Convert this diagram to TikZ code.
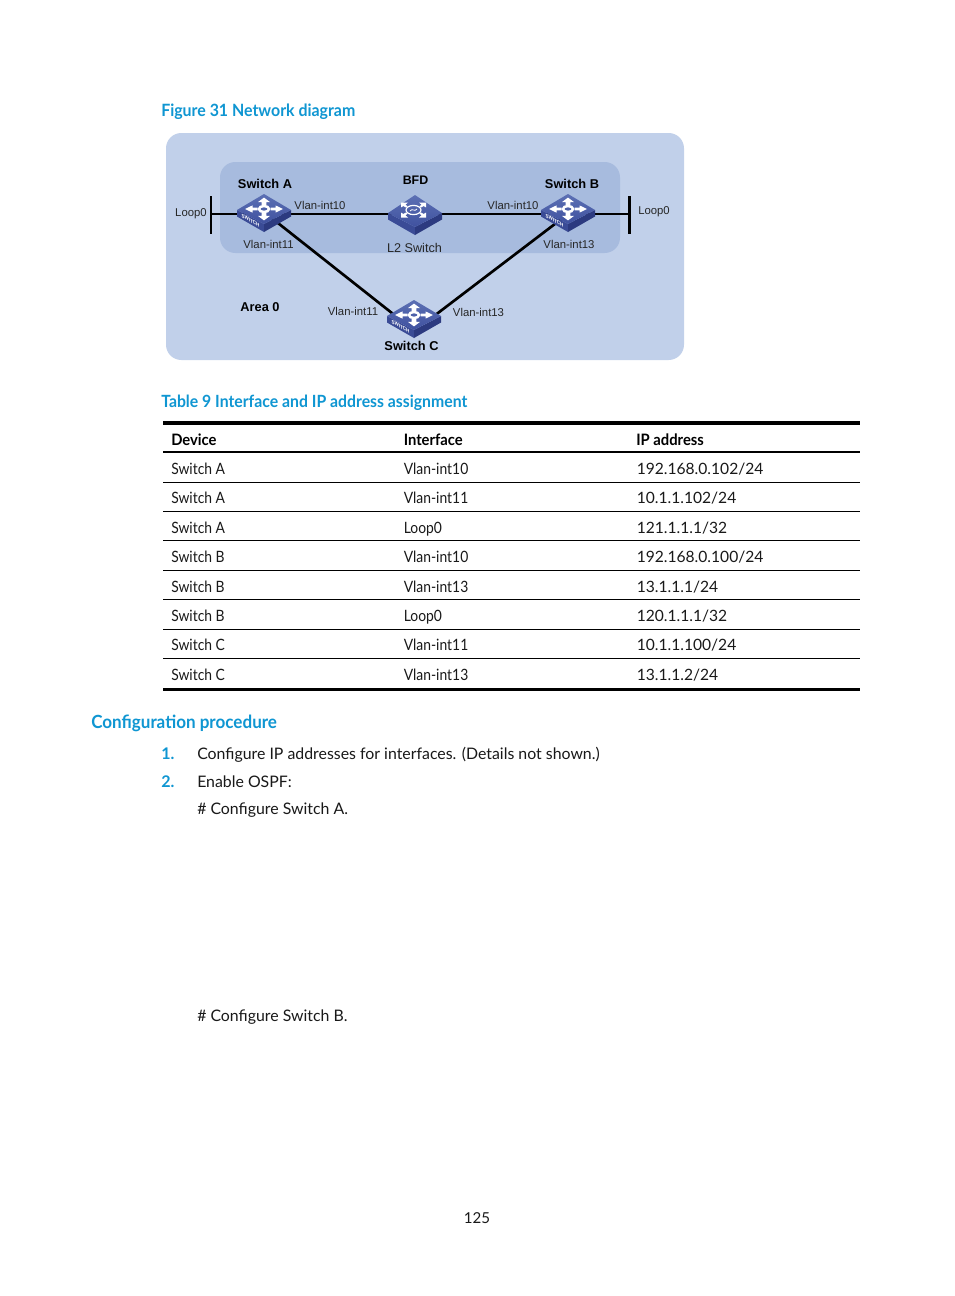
\documentclass[tikz,border=0pt]{standalone}
\usepackage{fontspec}
\setmainfont{Lato}
\newfontfamily\diag{Liberation Sans}
\newfontfamily\narrow[FakeStretch=.89]{Lato}
\newfontfamily\headf[FakeStretch=.94]{Lato}
\usetikzlibrary{calc}
\definecolor{hpblue}{HTML}{0F96D2}
\definecolor{outerbg}{HTML}{C1D0EA}
\definecolor{innerbg}{HTML}{A7BBDE}
\definecolor{facetop}{HTML}{5C70B4}
\definecolor{facebot}{HTML}{3F519F}
\definecolor{sideL}{HTML}{3A4B96}
\definecolor{sideR}{HTML}{2C3A80}
\tikzset{
  x=.75pt,y=-.75pt,
  lbl/.style={font=\diag\fontsize{8.5}{10}\selectfont,text=black!85,inner sep=0pt},
  blbl/.style={font=\diag\bfseries\fontsize{9.6}{11}\selectfont,text=black,inner sep=0pt},
  swnode/.style={minimum width=40.5pt,minimum height=28pt,inner sep=0pt},
  link/.style={line width=2.2pt,black},
  diagl/.style={line width=2pt,black},
  bar/.style={line width=2pt,black},
  body/.style={font=\fontsize{11.9}{14}\selectfont,anchor=base west,inner sep=0pt,text=black!90},
  cell/.style={font=\narrow\fontsize{11.7}{14}\selectfont,anchor=base west,inner sep=0pt,text=black!90},
  ipcell/.style={font=\fontsize{11.7}{14}\selectfont,anchor=base west,inner sep=0pt,text=black!90},
  hcell/.style={font=\headf\bfseries\fontsize{11.8}{14}\selectfont,anchor=base west,inner sep=0pt},
  head/.style={font=\headf\bfseries\fontsize{12.7}{15}\selectfont,anchor=base west,inner sep=0pt,text=hpblue},
  num/.style={font=\bfseries\fontsize{12.05}{14}\selectfont,anchor=base west,inner sep=0pt,text=hpblue},
}
\newcommand{\swbody}[3]{% x y top-height
  \fill[sideL] (#1-27,#2) -- (#1,#2+14) -- (#1,#2+22) -- (#1-27,#2+6.5) -- cycle;
  \fill[sideR] (#1+27,#2) -- (#1,#2+14) -- (#1,#2+22) -- (#1+27,#2+6.5) -- cycle;
  \shade[top color=facetop,bottom color=facebot] (#1,#2-#3) -- (#1+27,#2) -- (#1,#2+14) -- (#1-27,#2) -- cycle;
}
\newcommand{\swicon}[3]{% x y name
  \swbody{#1}{#2}{16}
  \begin{scope}[shift={(#1,#2-1)},yscale=.6]
    \foreach \a in {0,90,180,270}
      \fill[white,rotate=\a] (6.5,-2.4) -- (11.5,-2.4) -- (11.5,-6) -- (19,0) -- (11.5,6) -- (11.5,2.4) -- (6.5,2.4) -- cycle;
    \draw[white,line width=1.9pt] (0,0) circle (5);
  \end{scope}
  \node[inner sep=0pt,text=white,font=\diag\bfseries\fontsize{3.9}{4}\selectfont,
    transform shape,cm={.86,-.5,0,1,(#1-13.5,#2+10.5)}] (#3t) at (0,0) {SWITCH};
}
\newcommand{\hubicon}[2]{%
  \swbody{#1}{#2}{18}
  \begin{scope}[shift={(#1-1.5,#2-3)}]
    \foreach \sx/\sy in {1/1,1/-1,-1/1,-1/-1} {
      \fill[white,xscale=\sx,yscale=\sy] (12.5,7.5) -- (5.5,7.5) -- (8,5.4) -- (6,3.6) -- (8,2.6) -- (10,4) -- (12.5,2.6) -- cycle;
    }
    \draw[white,line width=.9pt] (0,0) ellipse (7.5 and 4.6);
    \draw[white,line width=.6pt] (-3.5,1) .. controls (-1,-2.5) and (1,2.5) .. (3.5,-1);
  \end{scope}
}
\begin{document}
\begin{tikzpicture}
\useasboundingbox (0,0) rectangle (954,1296);
\fill[white] (0,0) rectangle (954,1296);
% titles
\node[head] (figt) at (161,116) {Figure 31 Network diagram};
\node[head,font=\headf\bfseries\fontsize{12.6}{15}\selectfont] (tabt) at (161,407) {Table 9 Interface and IP address assignment};
\node[head,font=\headf\bfseries\fontsize{13.6}{16}\selectfont] (conft) at (91,728) {Configuration procedure};
% backgrounds
\fill[outerbg,rounded corners=11.5pt] (166,133) rectangle (684,360);
\fill[innerbg,rounded corners=11.5pt] (220,162) rectangle (620,253);
% nodes (empty anchors)
\node[swnode] (swa) at (264,212) {};
\node[swnode] (l2) at (414,214) {};
\node[swnode] (swb) at (568,212) {};
\node[swnode] (swc) at (414,318) {};
\coordinate (la) at (211,214);
\coordinate (lb) at (629.5,214);
\coordinate (laT) at (211,196);
\coordinate (laB) at (211,233.5);
\coordinate (lbT) at (629.5,196);
\coordinate (lbB) at (629.5,233.5);
% connectors
\draw[bar] (laT) -- (laB);
\draw[bar] (lbT) -- (lbB);
\draw[link] (la) -- (lb);
\draw[diagl] (swa.center) -- ($(swc.center)+(-12,3)$);
\draw[diagl] ($(swb.center)+(0,2)$) -- ($(swc.center)+(14,2.6)$);
% icons
\swicon{264}{210}{a}
\hubicon{415}{213}
\swicon{568}{210}{b}
\swicon{414}{316}{c}
% labels
\node[blbl] (ta) at (265,184) {Switch A};
\node[blbl] (tb) at (572,184) {Switch B};
\node[blbl] (tc) at (411.5,346) {Switch C};
\node[blbl,font=\diag\bfseries\fontsize{9.3}{11}\selectfont] (tbfd) at (415.5,180) {BFD};
\node[blbl,font=\diag\bfseries\fontsize{9.6}{11}\selectfont] (tarea) at (260,307) {Area 0};
\node[lbl,font=\diag\fontsize{9.5}{11}\selectfont] (tl2) at (414.5,248) {L2 Switch};
\node[lbl] (l0a) at (191,213.5) {Loop0};
\node[lbl] (l0b) at (654,211.5) {Loop0};
\node[lbl] (v1) at (320,205) {Vlan-int10};
\node[lbl] (v2) at (268.5,244) {Vlan-int11};
\node[lbl] (v3) at (513,205) {Vlan-int10};
\node[lbl] (v4) at (569,244) {Vlan-int13};
\node[lbl] (v5) at (353,311.5) {Vlan-int11};
\node[lbl] (v6) at (478.5,312.5) {Vlan-int13};
% table
\fill[black] (163,421) rectangle (860,425);
\fill[black] (163,451) rectangle (860,453);
\fill[black] (163,688) rectangle (860,691);
\foreach \y in {482.5,511.7,540.7,570.3,599.5,629.2,658.3}
  \draw[black,line width=.75pt] (163,\y) -- (860,\y);
\node[hcell] (h1) at (171,445.5) {Device};
\node[hcell] (h2) at (403.5,445.5) {Interface};
\node[hcell] (h3) at (636,445.5) {IP address};
\foreach \y/\d/\i/\p [count=\n] in {
  474/Switch A/Vlan-int10/192.168.0.102\slash 24,
  503/Switch A/Vlan-int11/10.1.1.102\slash 24,
  533/Switch A/Loop0/121.1.1.1\slash 32,
  562/Switch B/Vlan-int10/192.168.0.100\slash 24,
  592/Switch B/Vlan-int13/13.1.1.1\slash 24,
  621/Switch B/Loop0/120.1.1.1\slash 32,
  650.5/Switch C/Vlan-int11/10.1.1.100\slash 24,
  680/Switch C/Vlan-int13/13.1.1.2\slash 24}{
  \node[cell] (d\n) at (171,\y) {\d};
  \node[cell] (i\n) at (403.5,\y) {\i};
  \node[ipcell] (p\n) at (636.5,\y) {\p};
}
% body
\node[num] (n1) at (161,759) {1.};
\node[body] (b1) at (197,759) {Configure IP addresses for interfaces. (Details not shown.)};
\node[num] (n2) at (161,787) {2.};
\node[body] (b2) at (197,787) {Enable OSPF:};
\node[body] (b3) at (197,814) {\# Configure Switch A.};
\node[body] (b4) at (197,1021) {\# Configure Switch B.};
\node[body,font=\fontsize{11.3}{14}\selectfont,anchor=base] (pg) at (477,1223) {125};
\end{tikzpicture}
\end{document}
